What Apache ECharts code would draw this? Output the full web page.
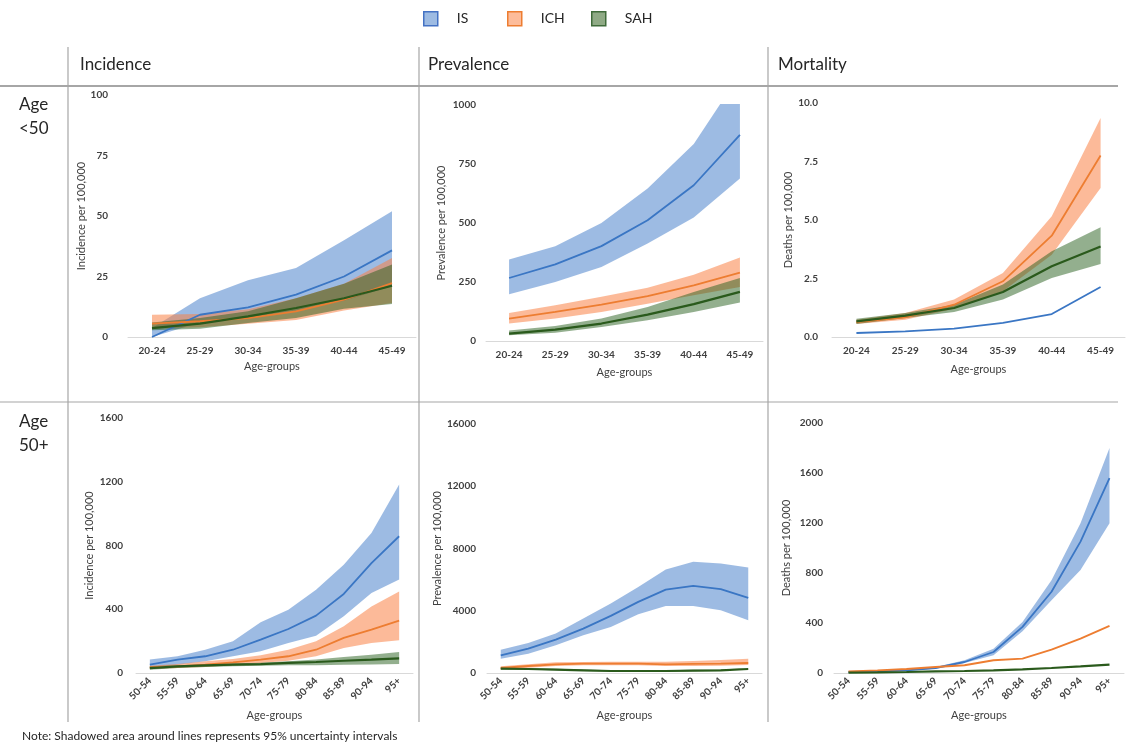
<!DOCTYPE html>
<html>
<head>
<meta charset="utf-8">
<script src="https://cdn.jsdelivr.net/npm/echarts@6/dist/echarts.min.js"></script>
<style>
  html, body { margin: 0; padding: 0; background: #fff; }
  #chart { width: 1127px; height: 744px; }
</style>
</head>
<body>
<div id="chart"></div>
<script>
  // age groups
  const agesYoung = ['20-24', '25-29', '30-34', '35-39', '40-44', '45-49']
  const agesOld = ['50-54', '55-59', '60-64', '65-69', '70-74', '75-79', '80-84', '85-89', '90-94', '95+']

  // incidence, age <50
  const incYoungIS = [0, 9.2, 12.2, 17.5, 25, 35.8]
  const incYoungISLo = [0, 6, 8, 11, 15, 21]
  const incYoungISHi = [3.7, 16, 23.4, 28.5, 40, 52]
  const incYoungICH = [5.5, 6.5, 7.8, 10.6, 15.4, 22.3]
  const incYoungICHLo = [3.5, 4, 5.5, 7, 11, 14]
  const incYoungICHHi = [9.2, 9.5, 11.5, 16, 22, 32.6]
  const incYoungSAH = [3.7, 5.5, 8.5, 12, 16, 21.2]
  const incYoungSAHLo = [2.8, 3.4, 5.8, 7.8, 11.7, 13.6]
  const incYoungSAHHi = [6, 7.8, 10.6, 16, 22, 30]

  // prevalence, age <50
  const prevYoungIS = [267, 325, 402, 512, 660, 873]
  const prevYoungISLo = [198, 250, 314, 413, 523, 689]
  const prevYoungISHi = [345, 402, 500, 646, 835, 1130]
  const prevYoungICH = [95, 123, 154, 190, 236, 290]
  const prevYoungICHLo = [74, 95, 123, 158, 194, 229]
  const prevYoungICHHi = [119, 151, 187, 226, 281, 354]
  const prevYoungSAH = [31, 48, 74, 112, 156, 208]
  const prevYoungSAHLo = [24, 35, 59, 88, 123, 163]
  const prevYoungSAHHi = [45, 64, 95, 144, 208, 267]

  // mortality, age <50
  const mortYoungIS = [0.17, 0.24, 0.36, 0.6, 0.98, 2.14]
  const mortYoungICH = [0.64, 0.84, 1.38, 2.38, 4.33, 7.76]
  const mortYoungICHLo = [0.56, 0.74, 1.21, 1.95, 3.52, 6.37]
  const mortYoungICHHi = [0.74, 1.03, 1.6, 2.74, 5.16, 9.36]
  const mortYoungSAH = [0.67, 0.91, 1.24, 1.92, 3.02, 3.87]
  const mortYoungSAHLo = [0.56, 0.81, 1.07, 1.6, 2.52, 3.12]
  const mortYoungSAHHi = [0.78, 1.03, 1.38, 2.24, 3.66, 4.69]

  // incidence, age 50+
  const incOldIS = [52, 84, 105, 146, 209, 276, 360, 496, 690, 858]
  const incOldISLo = [31, 52, 73, 105, 136, 188, 234, 356, 502, 586]
  const incOldISHi = [84, 105, 146, 199, 318, 397, 523, 680, 878, 1182]
  const incOldICH = [36, 42, 52, 67, 84, 105, 146, 220, 272, 328]
  const incOldICHLo = [25, 31, 38, 50, 63, 77, 105, 157, 188, 205]
  const incOldICHHi = [46, 56, 73, 88, 111, 146, 199, 293, 418, 512]
  const incOldSAH = [31, 42, 48, 52, 56, 63, 69, 77, 84, 92]
  const incOldSAHLo = [21, 31, 38, 42, 46, 48, 48, 52, 54, 56]
  const incOldSAHHi = [42, 48, 52, 59, 65, 73, 84, 100, 115, 132]

  // prevalence, age 50+
  const prevOldIS = [1137, 1566, 2145, 2853, 3668, 4569, 5362, 5598, 5384, 4826]
  const prevOldISLo = [922, 1244, 1780, 2424, 2960, 3775, 4311, 4311, 4033, 3389]
  const prevOldISHi = [1500, 1930, 2531, 3496, 4462, 5534, 6650, 7143, 7036, 6778]
  const prevOldICH = [322, 450, 558, 600, 600, 600, 558, 580, 600, 644]
  const prevOldICHLo = [236, 343, 450, 493, 493, 493, 450, 450, 472, 515]
  const prevOldICHHi = [429, 558, 686, 708, 730, 730, 730, 772, 837, 922]
  const prevOldSAH = [279, 257, 215, 172, 129, 129, 129, 150, 172, 257]
  const prevOldSAHLo = [230, 210, 170, 130, 90, 90, 90, 105, 125, 200]
  const prevOldSAHHi = [330, 310, 270, 225, 180, 180, 180, 205, 230, 320]

  // mortality, age 50+
  const mortOldIS = [8, 13, 21, 40, 88, 168, 369, 650, 1051, 1559]
  const mortOldISLo = [5, 11, 19, 35, 80, 142, 334, 583, 824, 1198]
  const mortOldISHi = [8, 16, 27, 48, 102, 195, 409, 743, 1198, 1800]
  const mortOldICH = [13, 21, 32, 48, 62, 102, 115, 187, 275, 377]
  const mortOldSAH = [3, 5, 8, 13, 16, 21, 29, 40, 53, 67]

  const lineColors = { IS: '#3a76c4', ICH: '#ed7d31', SAH: '#2a5a1c' }
  const bandColors = { IS: 'rgba(60,120,200,0.5)', ICH: 'rgba(250,130,70,0.55)', SAH: 'rgba(40,95,30,0.5)' }
  const fontFamily = 'Lato, "Open Sans", sans-serif'
  const tickColor = '#404040'

  const chart = echarts.init(document.getElementById('chart'))

  const grids = []
  const xAxes = []
  const yAxes = []
  const series = []

  function addPanel(p) {
    const g = grids.length
    grids.push({ left: p.left, width: p.width, top: p.top, height: p.height })
    xAxes.push({
      gridIndex: g,
      type: 'category',
      data: p.cats,
      boundaryGap: true,
      axisLine: { lineStyle: { color: '#d9d9d9', width: 1 } },
      axisTick: { show: false },
      axisLabel: {
        interval: 0, rotate: p.rotate || 0, margin: p.rotate ? 6 : 9,
        color: tickColor, fontSize: 10, fontWeight: 'bold', fontFamily
      },
      name: 'Age-groups',
      nameLocation: 'middle',
      nameGap: p.xNameGap,
      nameTextStyle: { color: tickColor, fontSize: 11, fontFamily }
    })
    yAxes.push({
      gridIndex: g,
      type: 'value',
      min: 0,
      max: p.max,
      interval: p.interval,
      splitLine: { show: false },
      axisLine: { show: false },
      axisTick: { show: false },
      axisLabel: {
        margin: p.labelMargin, color: tickColor, fontSize: 10, fontWeight: 'bold', fontFamily,
        formatter: p.fmt || ((v) => String(v))
      },
      name: p.yName,
      nameLocation: 'middle',
      nameGap: p.yNameGap,
      nameTextStyle: { color: tickColor, fontSize: 11, fontFamily }
    })
    // bands first, then lines on top
    p.lines.forEach((s) => {
      if (!s.lo) return
      const stackId = 'band' + g + s.name
      series.push({
        type: 'line', xAxisIndex: g, yAxisIndex: g, stack: stackId,
        data: s.lo, symbol: 'none', silent: true,
        lineStyle: { opacity: 0 }, z: 1
      })
      series.push({
        type: 'line', xAxisIndex: g, yAxisIndex: g, stack: stackId,
        data: s.hi.map((v, i) => v - s.lo[i]), symbol: 'none', silent: true,
        lineStyle: { opacity: 0 }, areaStyle: { color: bandColors[s.name], opacity: 1 }, z: 1
      })
    })
    p.lines.forEach((s) => {
      series.push({
        name: s.name, type: 'line', xAxisIndex: g, yAxisIndex: g,
        data: s.mid, symbol: 'none',
        lineStyle: { color: lineColors[s.name], width: s.name === 'SAH' ? 2.2 : 1.8 },
        itemStyle: { color: lineColors[s.name] }, z: 3
      })
    })
  }

  addPanel({
    left: 128, width: 288, top: 95, height: 242, cats: agesYoung,
    max: 100, interval: 25, labelMargin: 20, yName: 'Incidence per 100,000', yNameGap: 33, xNameGap: 24,
    lines: [
      { name: 'IS', mid: incYoungIS, lo: incYoungISLo, hi: incYoungISHi },
      { name: 'ICH', mid: incYoungICH, lo: incYoungICHLo, hi: incYoungICHHi },
      { name: 'SAH', mid: incYoungSAH, lo: incYoungSAHLo, hi: incYoungSAHHi }
    ]
  })
  addPanel({
    left: 486, width: 277, top: 105, height: 236, cats: agesYoung,
    max: 1000, interval: 250, labelMargin: 10, yName: 'Prevalence per 100,000', yNameGap: 39, xNameGap: 26,
    lines: [
      { name: 'IS', mid: prevYoungIS, lo: prevYoungISLo, hi: prevYoungISHi },
      { name: 'ICH', mid: prevYoungICH, lo: prevYoungICHLo, hi: prevYoungICHHi },
      { name: 'SAH', mid: prevYoungSAH, lo: prevYoungSAHLo, hi: prevYoungSAHHi }
    ]
  })
  addPanel({
    left: 832, width: 293, top: 103, height: 234, cats: agesYoung,
    max: 10, interval: 2.5, labelMargin: 14, fmt: (v) => v.toFixed(1),
    yName: 'Deaths per 100,000', yNameGap: 32, xNameGap: 27,
    lines: [
      { name: 'IS', mid: mortYoungIS },
      { name: 'ICH', mid: mortYoungICH, lo: mortYoungICHLo, hi: mortYoungICHHi },
      { name: 'SAH', mid: mortYoungSAH, lo: mortYoungSAHLo, hi: mortYoungSAHHi }
    ]
  })
  addPanel({
    left: 136, width: 277, top: 418, height: 255, cats: agesOld, rotate: 45,
    max: 1600, interval: 400, labelMargin: 13, yName: 'Incidence per 100,000', yNameGap: 41, xNameGap: 37,
    lines: [
      { name: 'IS', mid: incOldIS, lo: incOldISLo, hi: incOldISHi },
      { name: 'ICH', mid: incOldICH, lo: incOldICHLo, hi: incOldICHHi },
      { name: 'SAH', mid: incOldSAH, lo: incOldSAHLo, hi: incOldSAHHi }
    ]
  })
  addPanel({
    left: 487, width: 275, top: 424, height: 249, cats: agesOld, rotate: 45,
    max: 16000, interval: 4000, labelMargin: 11, yName: 'Prevalence per 100,000', yNameGap: 40, xNameGap: 37,
    lines: [
      { name: 'IS', mid: prevOldIS, lo: prevOldISLo, hi: prevOldISHi },
      { name: 'ICH', mid: prevOldICH, lo: prevOldICHLo, hi: prevOldICHHi },
      { name: 'SAH', mid: prevOldSAH, lo: prevOldSAHLo, hi: prevOldSAHHi }
    ]
  })
  addPanel({
    left: 834, width: 290, top: 423, height: 250, cats: agesOld, rotate: 45,
    max: 2000, interval: 400, labelMargin: 11, yName: 'Deaths per 100,000', yNameGap: 42, xNameGap: 37,
    lines: [
      { name: 'IS', mid: mortOldIS, lo: mortOldISLo, hi: mortOldISHi },
      { name: 'ICH', mid: mortOldICH },
      { name: 'SAH', mid: mortOldSAH }
    ]
  })

  const border = { stroke: '#a6a6a6', lineWidth: 1.2 }
  const headFont = { fill: '#262626', fontSize: 17, fontFamily }

  // one legend per item so the boxes sit on an even pitch like the original
  const legendItems = [
    { name: 'IS', left: 423, fill: '#9dbbe3', edge: '#4472c4' },
    { name: 'ICH', left: 507, fill: '#fdbc9a', edge: '#ed7d31' },
    { name: 'SAH', left: 591, fill: '#8faa85', edge: '#3f6b3a' }
  ]
  const legends = legendItems.map((it) => ({
    left: it.left, top: 11, padding: 0,
    itemWidth: 14, itemHeight: 14,
    textStyle: { color: '#262626', fontSize: 14, fontFamily, padding: [0, 0, 0, 14] },
    data: [{ name: it.name, icon: 'rect', itemStyle: { color: it.fill, borderColor: it.edge, borderWidth: 1.5 } }]
  }))

  chart.setOption({
    animation: false,
    textStyle: { fontFamily },
    legend: legends,
    grid: grids,
    xAxis: xAxes,
    yAxis: yAxes,
    series: series,
    graphic: [
      { type: 'line', shape: { x1: 68, y1: 47, x2: 68, y2: 722 }, style: border },
      { type: 'line', shape: { x1: 419, y1: 47, x2: 419, y2: 722 }, style: border },
      { type: 'line', shape: { x1: 768, y1: 47, x2: 768, y2: 722 }, style: border },
      { type: 'line', shape: { x1: 0, y1: 86, x2: 1118, y2: 86 }, style: { stroke: '#a6a6a6', lineWidth: 2 } },
      { type: 'line', shape: { x1: 0, y1: 402, x2: 1118, y2: 402 }, style: border },
      { type: 'text', style: Object.assign({ x: 80, y: 65, text: 'Incidence', verticalAlign: 'middle' }, headFont) },
      { type: 'text', style: Object.assign({ x: 428, y: 65, text: 'Prevalence', verticalAlign: 'middle' }, headFont) },
      { type: 'text', style: Object.assign({ x: 778, y: 65, text: 'Mortality', verticalAlign: 'middle' }, headFont) },
      { type: 'text', style: Object.assign({ x: 19, y: 93, text: 'Age\n<50', lineHeight: 24 }, headFont) },
      { type: 'text', style: Object.assign({ x: 19, y: 410, text: 'Age\n50+', lineHeight: 24 }, headFont) },
      { type: 'text', style: { x: 22, y: 736, text: 'Note: Shadowed area around lines represents 95% uncertainty intervals', verticalAlign: 'middle', fill: '#262626', fontSize: 12, fontFamily } }
    ]
  })
</script>
</body>
</html>
